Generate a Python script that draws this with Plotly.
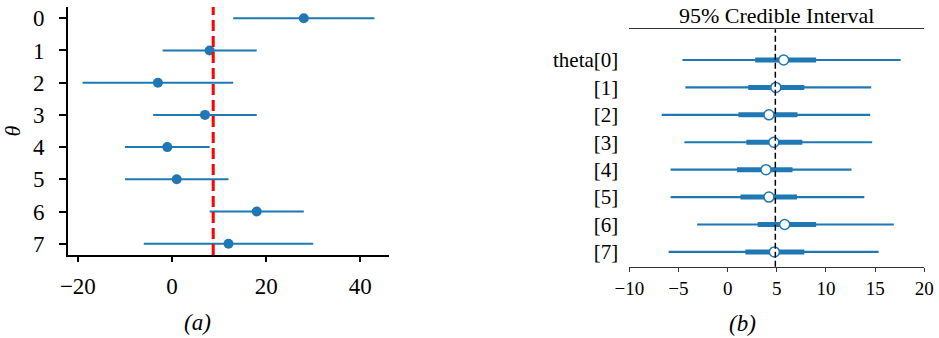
import numpy as np
import plotly.graph_objects as go

# ---- data ----
schools = [0, 1, 2, 3, 4, 5, 6, 7]
y_obs = [28, 8, -3, 7, -1, 1, 18, 12]
sigma = [15, 10, 16, 11, 9, 11, 10, 18]

theta_labels = ["theta[0]", "[1]", "[2]", "[3]", "[4]", "[5]", "[6]", "[7]"]
hdi95_lo = [-4.6, -4.3, -6.7, -4.4, -5.8, -5.8, -3.1, -6.0]
hdi95_hi = [17.6, 14.6, 14.5, 14.7, 12.6, 13.9, 16.9, 15.35]
q50_lo = [2.8, 2.1, 1.1, 1.9, 0.95, 1.3, 3.05, 1.8]
q50_hi = [9.0, 7.8, 7.1, 7.6, 6.6, 7.05, 9.0, 7.8]
median = [5.7, 4.9, 4.2, 4.7, 3.9, 4.2, 5.8, 4.75]
mu_ref = 4.85

BLUE = "#1f77b4"
FONT = "'Liberation Serif', 'DejaVu Serif', serif"
W, H = 939, 338

fig = go.Figure()

# ---- panel (a) ----
fig.add_trace(go.Scatter(
    x=y_obs, y=schools, mode="markers",
    marker=dict(color=BLUE, size=10),
    error_x=dict(type="data", array=sigma, symmetric=True, color=BLUE, thickness=2, width=0),
    xaxis="x", yaxis="y", showlegend=False))

pooled = float(np.mean(y_obs))
fig.add_shape(type="line", xref="x", yref="y domain", x0=pooled, x1=pooled, y0=0, y1=1,
              line=dict(color="red", width=3, dash="11px,5px"))

# ---- panel (b) ----
def seg(lo, hi):
    xs, ys = [], []
    for i, (a, b) in enumerate(zip(lo, hi)):
        xs += [a, b, None]
        ys += [i, i, None]
    return xs, ys

xs, ys = seg(hdi95_lo, hdi95_hi)
fig.add_trace(go.Scatter(x=xs, y=ys, mode="lines", line=dict(color=BLUE, width=2.2),
                         xaxis="x2", yaxis="y2", showlegend=False))
xs, ys = seg(q50_lo, q50_hi)
fig.add_trace(go.Scatter(x=xs, y=ys, mode="lines", line=dict(color=BLUE, width=5),
                         xaxis="x2", yaxis="y2", showlegend=False))
fig.add_trace(go.Scatter(x=median, y=list(range(len(median))), mode="markers",
                         marker=dict(color="white", size=10, line=dict(color=BLUE, width=1.5)),
                         xaxis="x2", yaxis="y2", showlegend=False))
fig.add_shape(type="line", xref="x2", yref="y2 domain", x0=mu_ref, x1=mu_ref, y0=0, y1=1,
              line=dict(color="black", width=1.5, dash="6px,3px"), layer="above")

fig.update_layout(
    width=W, height=H,
    margin=dict(l=0, r=0, t=0, b=0, autoexpand=False),
    paper_bgcolor="white", plot_bgcolor="white",
    font=dict(family=FONT, color="black", size=20),
    xaxis=dict(domain=[68 / W, 389 / W], range=[-22.1, 46.1], anchor="y", automargin=False,
               tickvals=[-20, 0, 20, 40], showgrid=False, zeroline=False,
               showline=True, linecolor="black", linewidth=2,
               ticks="outside", ticklen=5, tickwidth=1.5, tickcolor="black",
               ticklabelstandoff=4, tickfont=dict(size=23)),
    yaxis=dict(domain=[1 - 255 / H, 1 - 7 / H], range=[7.35, -0.35], anchor="x", automargin=False,
               tickvals=schools, showgrid=False, zeroline=False,
               showline=True, linecolor="black", linewidth=2,
               ticks="outside", ticklen=7, tickwidth=1.5, tickcolor="black",
               ticklabelstandoff=10, tickfont=dict(size=23),
               title=dict(text="<i>θ</i>", standoff=6, font=dict(size=22))),
    xaxis2=dict(domain=[629.3 / W, 924.3 / W], range=[-10, 20], anchor="y2", automargin=False,
                tickvals=[-10, -5, 0, 5, 10, 15, 20], showgrid=False, zeroline=False,
                showline=True, mirror=True, linecolor="#333", linewidth=1.3,
                ticks="outside", ticklen=4, tickwidth=1.2, tickcolor="#333",
                tickfont=dict(size=19)),
    yaxis2=dict(domain=[1 - 266.7 / H, 1 - 29.3 / H], range=[7.54, -1.12], anchor="x2", automargin=False,
                tickvals=list(range(len(theta_labels))), ticktext=theta_labels,
                showgrid=False, zeroline=False, showline=False, ticks="",
                ticklabelstandoff=10, tickfont=dict(size=21)),
    annotations=[
        dict(text="<i>(a)</i>", x=197 / W, y=1 - 322 / H, xref="paper", yref="paper",
             showarrow=False, font=dict(size=23), xanchor="center", yanchor="middle"),
        dict(text="<i>(b)</i>", x=742 / W, y=1 - 323 / H, xref="paper", yref="paper",
             showarrow=False, font=dict(size=23), xanchor="center", yanchor="middle"),
        dict(text="95% Credible Interval", x=776.7 / W, y=1 - 15 / H, xref="paper", yref="paper",
             showarrow=False, font=dict(size=22), xanchor="center", yanchor="middle"),
    ],
)

fig.write_html("out.html")
